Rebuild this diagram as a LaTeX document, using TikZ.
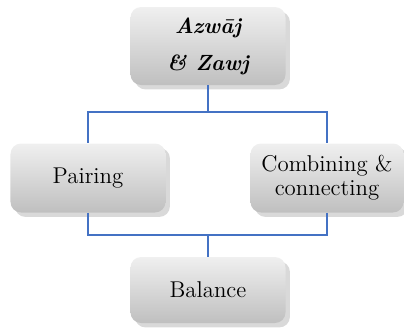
\documentclass[tikz,border=0pt]{standalone}
\usepackage{fontspec}
\usetikzlibrary{shadows,positioning}
\definecolor{linkblue}{RGB}{68,114,196}

\begin{document}
\begin{tikzpicture}[
    box/.style={rounded corners=6pt, minimum width=3.1cm, top color=gray!12, bottom color=gray!50,
        drop shadow={shadow xshift=2.5pt, shadow yshift=-2.5pt, opacity=0.3}, font=\fontsize{13}{15.5}\selectfont,
        align=center, inner sep=2pt},
    link/.style={draw=linkblue, line width=1pt}
]
    % Fix the picture size
    \useasboundingbox (0,0) rectangle (8.08,6.6);

    % Draw the boxes
    \node[box, minimum height=1.56cm, font=\fontsize{12.5}{21}\selectfont\bfseries\itshape] (root) at (4.16,5.68) {Azwāj\\\& Zawj};
    \node[box, minimum height=1.38cm] (pair) at (1.76,3.04) {Pairing};
    \node[box, minimum height=1.38cm, minimum width=3.06cm] (comb) at (6.54,3.04) {Combining \&\\[-2pt]connecting};
    \node[box, minimum height=1.32cm] (bal) at (4.16,0.8) {Balance};

    % Branch points
    \coordinate (top) at (4.16,4.36);
    \coordinate (low) at (4.16,1.9);

    % Draw the connectors
    \draw[link] (root.south) -- (top);
    \draw[link] (top) -| (pair.north);
    \draw[link] (top) -| (comb.north);
    \draw[link] (pair.south) |- (low);
    \draw[link] (comb.south) |- (low);
    \draw[link] (low) -- (bal.north);
\end{tikzpicture}
\end{document}
